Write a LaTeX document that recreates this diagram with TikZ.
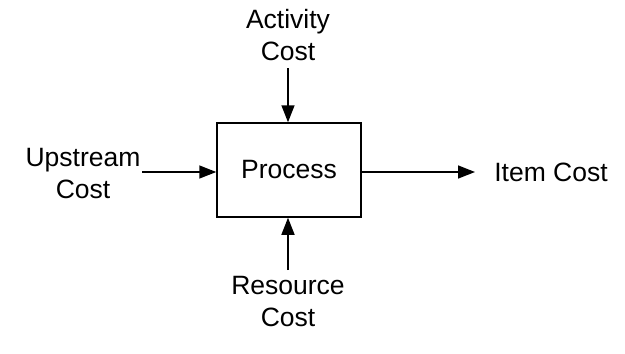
\documentclass[tikz,border=0pt]{standalone}
\usepackage{fontspec}
\setmainfont{Liberation Sans}
\usetikzlibrary{arrows.meta}
\begin{document}
\begin{tikzpicture}[x=1pt,y=-1pt,
  lbl/.style={align=center,inner sep=0pt,font=\fontsize{26.5}{32}\selectfont},
  procbox/.style={draw,line width=1.5pt,minimum width=144pt,minimum height=94pt,inner sep=0pt,font=\fontsize{26.5}{32}\selectfont},
  flow/.style={line width=1.5pt,-{Triangle[length=17pt,width=13pt]}}]
\useasboundingbox (0,0) rectangle (625,354);
\node[procbox] (proc) at (289,170) {Process};
\node[lbl] (act) at (288,35) {Activity\\Cost};
\node[lbl] (up) at (83,174) {Upstream\\Cost};
\node[lbl] (item) at (551,172) {Item Cost};
\node[lbl] (res) at (288,302) {Resource\\Cost};
\coordinate (actend) at (288,68);
\coordinate (upend) at (142,172);
\coordinate (resend) at (288,270);
\draw[flow] (actend) -- (proc.north -| actend);
\draw[flow] (upend) -- (proc.west |- upend);
\draw[flow] (resend) -- (proc.south -| resend);
\draw[flow] (proc.east |- upend) -- (475,172);
\end{tikzpicture}
\end{document}
